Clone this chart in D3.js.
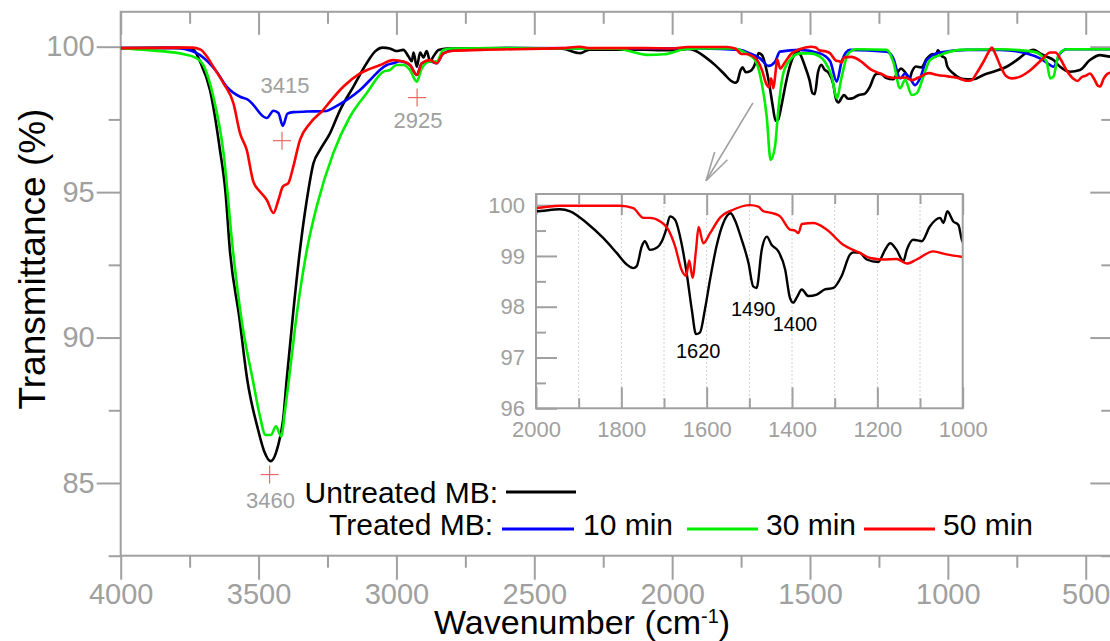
<!DOCTYPE html>
<html><head><meta charset="utf-8">
<script src="https://cdn.jsdelivr.net/npm/d3@7"></script>
<style>
html,body{margin:0;padding:0;background:#fff;}
svg{display:block;font-family:"Liberation Sans",Arial,Helvetica,sans-serif;}
</style></head><body>
<svg id="chart" width="1110" height="641"></svg>
<script>
// ---------------- DATA ----------------
const untreated = [
[4000,99.95],[3850,99.96],[3760,99.95],[3736,99.9],[3712,99.48],[3676,98.5],[3640,96.45],[3620,95.0],[3604,93.0],[3570,90.7],[3541,88.55],[3502,86.84],[3480,86.1],[3456,85.75],[3430,86.26],[3411,87.18],[3398,88.55],[3375,90.8],[3350,93.0],[3325,94.73],[3301,95.99],[3277,96.45],[3241,97.02],[3204,97.83],[3156,98.63],[3108,99.43],[3078,99.83],[3050,99.97],[3024,99.94],[3000,99.85],[2975,99.89],[2956,99.66],[2944,99.5],[2938,99.8],[2926,99.31],[2914,99.8],[2902,99.63],[2890,99.85],[2878,99.49],[2866,99.66],[2847,99.89],[2817,99.94],[2600,99.95],[2400,99.93],[2334,99.78],[2300,99.9],[2100,99.9],[2040,99.88],
[2000,99.88],[1944,99.92],[1920,99.88],[1881,99.65],[1842,99.35],[1811,99.06],[1787,98.83],[1772,98.76],[1764,98.8],[1752,99.19],[1745,99.29],[1733,99.12],[1717,99.16],[1705,99.29],[1695,99.52],[1686,99.78],[1674,99.71],[1659,99.25],[1647,98.67],[1635,97.95],[1625,97.46],[1616,97.49],[1604,97.95],[1592,98.54],[1577,99.19],[1561,99.65],[1544,99.84],[1534,99.71],[1518,99.32],[1502,98.86],[1491,98.4],[1483,98.37],[1471,99.12],[1459,99.38],[1448,99.22],[1432,99.09],[1416,98.73],[1405,98.18],[1397,98.08],[1389,98.18],[1377,98.34],[1362,98.21],[1342,98.24],[1323,98.34],[1303,98.37],[1284,98.6],[1264,99.03],[1256,99.07],[1241,99.06],[1225,98.93],[1198,98.88],[1182,99.12],[1170,99.25],[1155,99.12],[1139,98.9],[1131,99.12],[1116,99.32],[1096,99.29],[1077,99.58],[1053,99.75],[1045,99.65],[1036,99.88],[1022,99.68],[1010,99.61],[1002,99.32],
[980,99.08],[944,98.89],[908,98.88],[871,99.03],[835,99.14],[787,99.31],[750,99.54],[714,99.8],[690,99.89],[666,99.77],[642,99.66],[617,99.54],[593,99.31],[557,99.14],[521,99.2],[485,99.54],[448,99.71],[412,99.66],[400,99.66]
];
const treated10 = [
[4000,99.95],[3800,99.96],[3785,99.95],[3712,99.71],[3652,99.14],[3616,98.63],[3567,98.28],[3537,98.17],[3519,98.0],[3483,97.6],[3470,97.55],[3446,97.8],[3428,97.72],[3412,97.28],[3395,97.7],[3374,97.75],[3325,97.77],[3253,97.79],[3229,97.9],[3180,98.17],[3132,98.51],[3084,98.97],[3060,99.2],[3035,99.37],[3012,99.43],[2987,99.5],[2951,99.37],[2926,99.03],[2908,99.43],[2878,99.49],[2854,99.43],[2830,99.77],[2793,99.88],[2600,99.95],[1899,99.94],[1754,99.89],[1718,99.77],[1681,99.6],[1651,99.34],[1627,99.48],[1609,99.83],[1536,99.89],[1464,99.77],[1427,99.5],[1403,98.8],[1385,99.5],[1355,99.89],[1222,99.83],[1198,99.6],[1173,98.91],[1155,99.08],[1137,98.91],[1119,98.68],[1101,98.91],[1077,99.54],[1029,99.8],[932,99.89],[811,99.89],[714,99.77],[666,99.6],[629,99.37],[617,99.31],[593,99.77],[569,99.91],[400,99.91]
];
const treated30 = [
[4000,99.95],[3900,99.88],[3785,99.77],[3724,99.6],[3700,99.37],[3664,98.28],[3627,96.34],[3593,93.0],[3560,90.5],[3521,88.55],[3495,87.3],[3475,86.65],[3455,86.65],[3437,86.95],[3418,86.6],[3404,87.5],[3390,88.55],[3360,90.9],[3325,93.0],[3289,94.51],[3229,96.34],[3168,97.6],[3108,98.4],[3047,99.14],[3024,99.2],[2999,99.37],[2975,99.37],[2951,99.2],[2926,98.8],[2908,99.26],[2878,99.49],[2854,99.49],[2830,99.89],[2800,99.94],[2600,99.95],[2200,99.93],[2090,99.72],[2030,99.74],[1950,99.92],[1899,99.94],[1778,99.94],[1730,99.77],[1699,99.54],[1675,98.74],[1657,97.6],[1643,96.11],[1627,96.57],[1615,97.83],[1597,99.08],[1573,99.54],[1536,99.77],[1500,99.77],[1464,99.66],[1446,99.48],[1421,98.97],[1403,98.23],[1385,98.97],[1361,99.77],[1331,99.91],[1222,99.89],[1198,99.48],[1173,98.57],[1155,98.86],[1131,98.34],[1113,98.4],[1089,98.97],[1065,99.54],[1029,99.71],[956,99.89],[811,99.91],[690,99.83],[642,99.49],[629,98.91],[617,98.97],[599,99.71],[569,99.91],[400,99.91]
];
const treated50 = [
[4000,99.95],[3800,99.97],[3740,99.97],[3710,99.9],[3690,99.7],[3664,99.31],[3627,98.74],[3591,98.05],[3567,97.02],[3543,96.45],[3519,95.36],[3495,95.02],[3470,94.73],[3446,94.28],[3428,94.73],[3412,95.19],[3392,95.31],[3374,95.88],[3350,96.79],[3313,97.37],[3265,97.83],[3241,98.11],[3192,98.63],[3132,99.08],[3059,99.37],[3012,99.54],[2975,99.49],[2951,99.37],[2926,99.03],[2908,99.43],[2878,99.54],[2854,99.43],[2830,99.77],[2793,99.86],[2697,99.89],[2400,99.95],[2334,100.0],[2300,99.95],[2100,99.95],
[2000,99.94],[1944,99.99],[1803,99.99],[1772,99.94],[1748,99.75],[1733,99.75],[1709,99.68],[1690,99.52],[1674,99.19],[1659,98.73],[1648,98.61],[1641,98.91],[1633,98.57],[1625,99.12],[1619,99.57],[1608,99.25],[1592,99.45],[1569,99.75],[1538,99.91],[1498,100.0],[1479,99.97],[1467,99.88],[1444,99.84],[1428,99.78],[1405,99.52],[1393,99.5],[1385,99.45],[1377,99.63],[1350,99.65],[1319,99.52],[1280,99.22],[1241,99.06],[1217,98.96],[1186,98.93],[1155,98.94],[1131,98.85],[1108,98.93],[1069,99.09],[1038,99.03],[1000,98.98],
[968,98.93],[945,98.86],[930,98.83],[914,98.85],[895,99.1],[870,99.5],[850,99.85],[841,99.97],[830,99.8],[810,99.35],[790,99.0],[769,98.91],[738,98.97],[700,99.2],[660,99.55],[629,99.8],[610,99.8],[590,99.55],[570,99.2],[545,98.9],[530,98.82],[515,98.95],[500,99.0],[485,99.08],[470,98.9],[455,98.65],[448,98.63],[435,98.9],[412,99.1],[400,99.1]
];

const seriesNames = ["Untreated MB", "10 min", "30 min", "50 min"];
const seriesColors = ["#000000", "#0000ff", "#00ee00", "#ff0000"];

const mainXTicks = [4000,3500,3000,2500,2000,1500,1000,500];
const mainXMinor = [3750,3250,2750,2250,1750,1250,750];
const mainYTicks = [100,95,90,85];
const mainYMinor = [97.5,92.5,87.5,82.5];

const insetXTicks = [2000,1800,1600,1400,1200,1000];
const insetXMinor = [1900,1700,1500,1300,1100];
const insetGrid = [1900,1800,1700,1600,1500,1400,1300,1200,1100];
const insetYTicks = [96,97,98,99,100];
const insetYMinor = [96.5,97.5,98.5,99.5];

const peakLabels = ["3415","2925","3460"];
const peakWN = [3415,2925,3460];
const peakT = [96.77,98.25,85.29];

const insetPeakLabels = ["1620","1490","1400"];
const insetPeakWN = [1620,1491,1393];
const insetPeakT = [97.0,97.82,97.52];

const arrowFrom = [1707,98.07];
const arrowTo = [1877,95.39];

// ---------------- DRAW ----------------
const svg = d3.select("#chart");
svg.append("rect").attr("width",1110).attr("height",641).attr("fill","#fff");
const grey = "#a0a0a0";

const x = d3.scaleLinear().domain([4000,400]).range([120.7,1113.3]);
const y = d3.scaleLinear().domain([82.5,101.2]).range([555.7,11.8]);

svg.append("defs").append("clipPath").attr("id","mainclip")
  .append("rect").attr("x",120.7).attr("y",11.8).attr("width",992.6).attr("height",543.9);

function styleAxis(g, fs){
  g.select(".domain").remove();
  g.selectAll(".tick line").attr("stroke",grey).attr("stroke-width",2);
  g.selectAll(".tick text").attr("fill",grey).attr("font-size",fs)
    .attr("font-family","Liberation Sans, Arial, sans-serif");
}

// main axes
styleAxis(svg.append("g").attr("transform","translate(0,555.7)")
  .call(d3.axisBottom(x).tickValues(mainXTicks).tickSize(24).tickPadding(4).tickFormat(d3.format("d"))), 29);
styleAxis(svg.append("g").attr("transform","translate(0,555.7)")
  .call(d3.axisBottom(x).tickValues(mainXMinor).tickSize(12).tickFormat("")), 29);
styleAxis(svg.append("g").attr("transform","translate(0,11.8)")
  .call(d3.axisTop(x).tickValues(mainXTicks).tickSize(-23).tickFormat("")), 29);
styleAxis(svg.append("g").attr("transform","translate(0,11.8)")
  .call(d3.axisTop(x).tickValues(mainXMinor).tickSize(-12).tickFormat("")), 29);
styleAxis(svg.append("g").attr("transform","translate(120.7,0)")
  .call(d3.axisLeft(y).tickValues(mainYTicks).tickSize(24).tickPadding(2).tickFormat(d3.format("d"))), 29);
styleAxis(svg.append("g").attr("transform","translate(120.7,0)")
  .call(d3.axisLeft(y).tickValues(mainYMinor).tickSize(12).tickFormat("")), 29);
styleAxis(svg.append("g").attr("transform","translate(1113.3,0)")
  .call(d3.axisRight(y).tickValues(mainYTicks).tickSize(-23).tickFormat("")), 29);
styleAxis(svg.append("g").attr("transform","translate(1113.3,0)")
  .call(d3.axisRight(y).tickValues(mainYMinor).tickSize(-12).tickFormat("")), 29);

svg.append("rect").attr("x",120.7).attr("y",11.8).attr("width",992.6).attr("height",543.9)
  .attr("fill","none").attr("stroke",grey).attr("stroke-width",2);

// curves
const allSeries = [untreated, treated10, treated30, treated50];
const line = d3.line().x(d=>x(d[0])).y(d=>y(d[1])).curve(d3.curveMonotoneX);
const curves = svg.append("g").attr("clip-path","url(#mainclip)");
allSeries.forEach((s,i)=>{
  curves.append("path").attr("d",line(s)).attr("fill","none")
    .attr("stroke",seriesColors[i]).attr("stroke-width",2.6).attr("stroke-linejoin","round");
});

// peak markers
const plusColor = "#ee6666";
peakWN.forEach((w,i)=>{
  const px = x(w), py = y(peakT[i]);
  svg.append("line").attr("x1",px-9).attr("x2",px+9).attr("y1",py).attr("y2",py).attr("stroke",plusColor).attr("stroke-width",1.2);
  svg.append("line").attr("x1",px).attr("x2",px).attr("y1",py-9).attr("y2",py+9).attr("stroke",plusColor).attr("stroke-width",1.2);
  const dy = i===0 ? -48 : (i===1 ? 30 : 33);
  svg.append("text").attr("x",px + (i===0?3:1)).attr("y",py+dy).attr("text-anchor","middle")
    .attr("font-size",22).attr("fill",grey).text(peakLabels[i]);
});

// arrow
(function(){
  const x1=x(arrowFrom[0]), y1=y(arrowFrom[1]), x2=x(arrowTo[0]), y2=y(arrowTo[1]);
  svg.append("line").attr("x1",x1).attr("y1",y1).attr("x2",x2).attr("y2",y2).attr("stroke",grey).attr("stroke-width",1.6);
  const ang = Math.atan2(y1-y2, x1-x2);
  [ -0.25, 0.25 ].forEach(da=>{
    svg.append("line").attr("x1",x2).attr("y1",y2)
      .attr("x2",x2+30*Math.cos(ang+da)).attr("y2",y2+30*Math.sin(ang+da))
      .attr("stroke",grey).attr("stroke-width",1.6);
  });
})();

// ---------------- INSET ----------------
const ix = d3.scaleLinear().domain([2000,1000]).range([536,962.7]);
const iy = d3.scaleLinear().domain([96,100.22]).range([408.3,194]);
const inset = svg.append("g");
inset.append("rect").attr("x",536).attr("y",194).attr("width",426.7).attr("height",214.3).attr("fill","#fff");
svg.select("defs").append("clipPath").attr("id","insetclip")
  .append("rect").attr("x",536).attr("y",194).attr("width",426.7).attr("height",214.3);
inset.selectAll(".grid").data(insetGrid).join("line").attr("class","grid")
  .attr("x1",d=>ix(d)).attr("x2",d=>ix(d)).attr("y1",194).attr("y2",408.3)
  .attr("stroke","#d4d4d4").attr("stroke-width",1).attr("stroke-dasharray","2,2");

styleAxis(inset.append("g").attr("transform","translate(0,408.3)")
  .call(d3.axisBottom(ix).tickValues(insetXTicks).tickSize(-21).tickPadding(13).tickFormat(d3.format("d"))), 22);
styleAxis(inset.append("g").attr("transform","translate(0,408.3)")
  .call(d3.axisBottom(ix).tickValues(insetXMinor).tickSize(-10).tickFormat("")), 22);
styleAxis(inset.append("g").attr("transform","translate(0,194)")
  .call(d3.axisTop(ix).tickValues(insetXTicks).tickSize(-21).tickFormat("")), 22);
styleAxis(inset.append("g").attr("transform","translate(0,194)")
  .call(d3.axisTop(ix).tickValues(insetXMinor).tickSize(-10).tickFormat("")), 22);
styleAxis(inset.append("g").attr("transform","translate(536,0)")
  .call(d3.axisLeft(iy).tickValues(insetYTicks).tickSize(-21).tickPadding(11).tickFormat(d3.format("d"))), 22);
styleAxis(inset.append("g").attr("transform","translate(536,0)")
  .call(d3.axisLeft(iy).tickValues(insetYMinor).tickSize(-10).tickFormat("")), 22);

const iline = d3.line().x(d=>ix(d[0])).y(d=>iy(d[1])).curve(d3.curveMonotoneX);
const icurves = inset.append("g").attr("clip-path","url(#insetclip)");
[[untreated,0],[treated50,3]].forEach(([s,i])=>{
  icurves.append("path").attr("d",iline(s.filter(d=>d[0]<=2040&&d[0]>=980))).attr("fill","none")
    .attr("stroke",seriesColors[i]).attr("stroke-width",2.4).attr("stroke-linejoin","round");
});
inset.append("rect").attr("x",536).attr("y",194).attr("width",426.7).attr("height",214.3)
  .attr("fill","none").attr("stroke",grey).attr("stroke-width",2);

insetPeakWN.forEach((w,i)=>{
  inset.append("text").attr("x",ix(w)).attr("y",iy(insetPeakT[i])).attr("text-anchor","middle")
    .attr("font-size",20).attr("fill","#000").text(insetPeakLabels[i]);
});

// ---------------- LEGEND ----------------
const lg = svg.append("g").attr("font-size",30).attr("fill","#000");
lg.append("text").attr("x",498).attr("y",503).attr("text-anchor","end").text(seriesNames[0] + ":");
lg.append("line").attr("x1",506).attr("x2",576).attr("y1",492).attr("y2",492).attr("stroke",seriesColors[0]).attr("stroke-width",3);
lg.append("text").attr("x",493).attr("y",535).attr("text-anchor","end").text("Treated MB:");
const legX = [[502,574,583],[687,758,766],[864,935,943]];
[1,2,3].forEach((si,k)=>{
  lg.append("line").attr("x1",legX[k][0]).attr("x2",legX[k][1]).attr("y1",529).attr("y2",529)
    .attr("stroke",seriesColors[si]).attr("stroke-width",3);
  lg.append("text").attr("x",legX[k][2]).attr("y",535).text(seriesNames[si]);
});

// ---------------- TITLES ----------------
const xt = svg.append("text").attr("x",434).attr("y",634).attr("font-size",34).attr("fill","#000");
xt.append("tspan").text("Wavenumber (cm");
xt.append("tspan").attr("font-size",20).attr("baseline-shift","super").text("-1");
xt.append("tspan").text(")");

svg.append("text").attr("transform","translate(45,259) rotate(-90)").attr("text-anchor","middle")
  .attr("font-size",37).attr("fill","#000").text("Transmittance (%)");
</script>
</body></html>
